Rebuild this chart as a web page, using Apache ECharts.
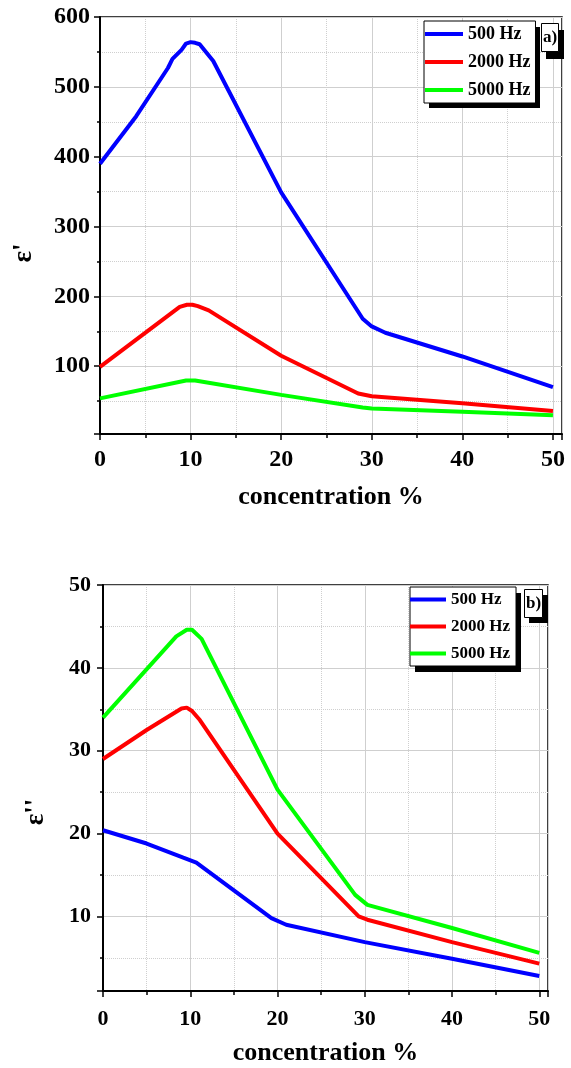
<!DOCTYPE html>
<html>
<head>
<meta charset="utf-8">
<script src="https://cdn.jsdelivr.net/npm/echarts@6/dist/echarts.min.js"></script>
<style>
html, body { margin: 0; padding: 0; background: #fff; }
#chart { width: 571px; height: 1068px; }
</style>
</head>
<body>
<div id="chart"></div>
<script>
// panel a) - real part of permittivity
const concA500 = [0, 4, 7.5, 8, 9, 9.5, 10, 10.5, 11, 12.5, 20, 29, 30, 31.5, 40, 50];
const epsA500 = [390, 458, 527, 540, 553, 562, 564, 563, 561, 537, 349, 168, 157, 148, 114, 70];
const concA2000 = [0, 8.8, 9.6, 10.2, 10.8, 12, 20, 28.5, 30, 40, 50];
const epsA2000 = [99, 185, 188, 188, 186, 180, 115, 61, 57, 47, 36];
const concA5000 = [0, 9.5, 10.5, 20, 29, 30, 40, 50];
const epsA5000 = [54, 79.5, 79.5, 59, 41, 39.5, 35, 30];

// panel b) - imaginary part
const concB500 = [0, 5, 9.2, 10.7, 19.3, 21, 30, 40, 50];
const epsB500 = [20.4, 18.8, 17.1, 16.5, 9.8, 9.0, 6.9, 4.9, 2.8];
const concB2000 = [0, 5, 9, 9.6, 10.2, 11.1, 20, 29.3, 30.3, 40, 50];
const epsB2000 = [29, 32.5, 35.1, 35.2, 34.8, 33.7, 20, 10, 9.6, 6.9, 4.3];
const concB5000 = [0, 8.4, 9.6, 10.2, 11.3, 20, 28.9, 30.3, 40, 50];
const epsB5000 = [34, 43.8, 44.6, 44.6, 43.5, 25.3, 12.6, 11.4, 8.6, 5.6];

const freqNames = ['500 Hz', '2000 Hz', '5000 Hz'];
const freqColors = ['#0000ff', '#ff0000', '#00ff00'];

const FONT = '"Liberation Serif", "Times New Roman", serif';

function pairs(xs, ys) {
    return xs.map((x, i) => [x, ys[i]]);
}

function xAxisFor(gridIndex, fontSize, gap, margin) {
    return {
        gridIndex: gridIndex,
        type: 'value',
        min: 0,
        max: 51,
        interval: 10,
        name: 'concentration %',
        nameLocation: 'middle',
        nameGap: gap,
        nameTextStyle: { fontFamily: FONT, fontWeight: 'bold', fontSize: 26, color: '#000' },
        axisLine: { show: true, onZero: false, lineStyle: { color: '#000', width: 2 } },
        axisTick: { show: true, length: 6, lineStyle: { color: '#000', width: 1.5 } },
        minorTick: { show: true, splitNumber: 2, length: 4, lineStyle: { color: '#000', width: 1.5 } },
        axisLabel: { fontFamily: FONT, fontWeight: 'bold', fontSize: fontSize, color: '#000', margin: margin, showMaxLabel: false },
        splitLine: { show: true, lineStyle: { color: '#cfcfcf', width: 1 } },
        minorSplitLine: { show: true, lineStyle: { color: '#cfcfcf', width: 1, type: 'dotted' } }
    };
}

function yAxisFor(gridIndex, min, max, name, gap, shift, fontSize, margin) {
    return {
        gridIndex: gridIndex,
        type: 'value',
        min: min,
        max: max,
        splitNumber: 6,
        name: name,
        nameLocation: 'middle',
        nameGap: gap,
        nameTextStyle: { fontFamily: FONT, fontWeight: 'bold', fontSize: 27, color: '#000', padding: [0, shift, 0, 0] },
        axisLine: { show: true, onZero: false, lineStyle: { color: '#000', width: 2 } },
        axisTick: { show: true, length: 6, lineStyle: { color: '#000', width: 1.5 } },
        minorTick: { show: true, splitNumber: 2, length: 3, lineStyle: { color: '#000', width: 1.5 } },
        axisLabel: { fontFamily: FONT, fontWeight: 'bold', fontSize: fontSize, color: '#000', margin: margin, showMinLabel: false },
        splitLine: { show: true, lineStyle: { color: '#cfcfcf', width: 1 } },
        minorSplitLine: { show: true, lineStyle: { color: '#cfcfcf', width: 1, type: 'dotted' } }
    };
}

function legendFor(left, top, fontSize, itemWidth, padding) {
    return {
        orient: 'vertical',
        left: left,
        top: top,
        z: 6,
        data: freqNames,
        icon: 'rect',
        itemWidth: itemWidth,
        itemHeight: 4,
        itemGap: 10,
        padding: padding,
        backgroundColor: '#fff',
        borderColor: '#000',
        borderWidth: 1,
        borderRadius: 0,
        textStyle: { fontFamily: FONT, fontWeight: 'bold', fontSize: fontSize, color: '#000', lineHeight: fontSize }
    };
}

function panelTag(text, left, top) {
    return {
        text: text,
        left: left,
        top: top,
        z: 6,
        padding: [6, 2, 6, 2],
        backgroundColor: '#fff',
        borderColor: '#000',
        borderWidth: 1,
        textStyle: { fontFamily: FONT, fontWeight: 'bold', fontSize: 17, color: '#000', lineHeight: 17 }
    };
}

// black drop shadows behind the legend boxes and panel tags
function shadowBox(x, y, w, h) {
    return { type: 'rect', z: 5, shape: { x: x, y: y, width: w, height: h }, style: { fill: '#000' } };
}

const panelA = [pairs(concA500, epsA500), pairs(concA2000, epsA2000), pairs(concA5000, epsA5000)];
const panelB = [pairs(concB500, epsB500), pairs(concB2000, epsB2000), pairs(concB5000, epsB5000)];

let series = [];
[panelA, panelB].forEach((panel, p) => {
    panel.forEach((data, i) => {
        series.push({
            name: freqNames[i],
            type: 'line',
            xAxisIndex: p,
            yAxisIndex: p,
            data: data,
            symbol: 'none',
            smooth: false,
            lineStyle: { color: freqColors[i], width: 4 },
            itemStyle: { color: freqColors[i] },
            z: 3 + (panel.length - i)
        });
    });
});

let option = {
    animation: false,
    backgroundColor: '#fff',
    grid: [
        { left: 100, top: 17, width: 462, height: 417, show: true, borderColor: '#000', borderWidth: 1.5, backgroundColor: 'transparent' },
        { left: 103, top: 585, width: 445, height: 406, show: true, borderColor: '#000', borderWidth: 1.5, backgroundColor: 'transparent' }
    ],
    xAxis: [xAxisFor(0, 24, 50, 14), xAxisFor(1, 22, 49, 17)],
    yAxis: [
        yAxisFor(0, 3, 600, "ε'", 62, 55, 24, 10),
        yAxisFor(1, 1, 50, "ε''", 53, 48, 22, 12)
    ],
    legend: [
        legendFor(424, 21, 18, 38, [4, 5, 4, 1]),
        legendFor(410, 587, 17, 36, [4, 6, 4, 0])
    ],
    title: [panelTag('a)', 541, 23), panelTag('b)', 524, 589)],
    graphic: [
        shadowBox(429, 27, 111, 81),
        shadowBox(546, 30, 18, 29),
        shadowBox(415, 593, 106, 79),
        shadowBox(529, 595, 19, 28)
    ],
    series: series
};

let myChart = echarts.init(document.getElementById('chart'), null, { renderer: 'canvas' });
myChart.setOption(option);
</script>
</body>
</html>
